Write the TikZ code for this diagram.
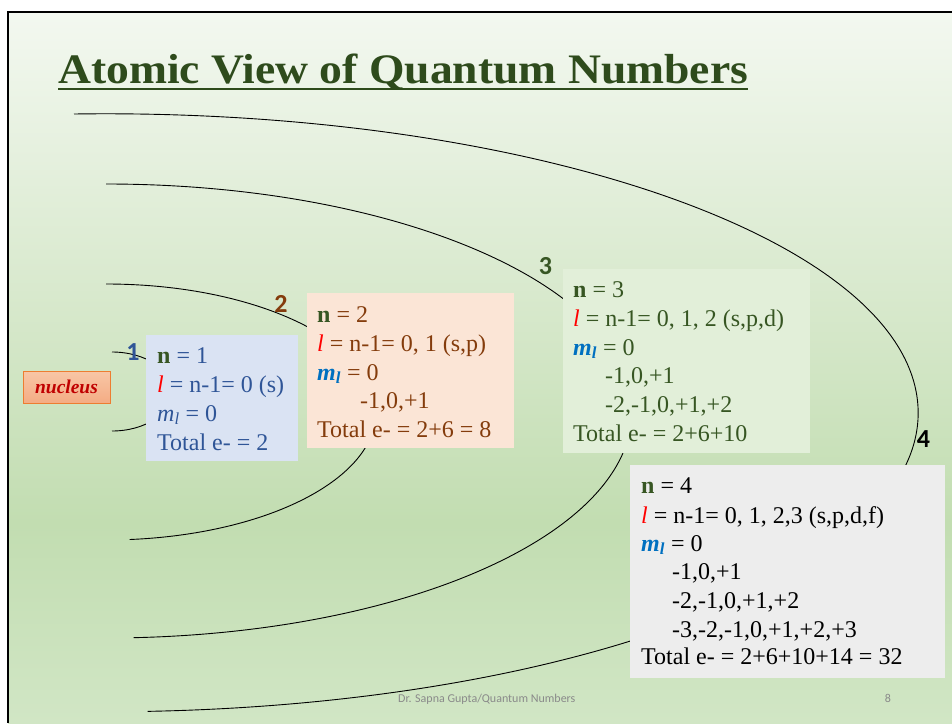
\documentclass[tikz,border=0pt]{standalone}
\usepackage{fontspec}
\setmainfont{Liberation Serif}
\newfontfamily\calib{Carlito}
\definecolor{bgA}{HTML}{F3F8F0}
\definecolor{bgM}{HTML}{DCEBD2}
\definecolor{bgB}{HTML}{C2DDB1}
\definecolor{bgC}{HTML}{D1E6C5}
\definecolor{titlegreen}{HTML}{2E4B1C}
\definecolor{ngreen}{HTML}{375623}
\definecolor{bluetxt}{HTML}{2F5597}
\definecolor{boxonefill}{HTML}{DAE3F3}
\definecolor{browntxt}{HTML}{843C0C}
\definecolor{boxtwofill}{HTML}{FBE5D6}
\definecolor{boxthreefill}{HTML}{E2EFD9}
\definecolor{boxfourfill}{HTML}{EDEDED}
\definecolor{mlblue}{HTML}{0070C0}
\definecolor{redl}{HTML}{FF0000}
\definecolor{nuctxt}{HTML}{C00000}
\definecolor{nucborder}{HTML}{ED7D31}
\definecolor{nuctop}{HTML}{F8C6A6}
\definecolor{nucbot}{HTML}{F4AC84}
\definecolor{footgray}{HTML}{8A8A8A}
\pgfdeclareverticalshading{slidebg}{100bp}{color(0bp)=(bgC); color(25bp)=(bgC); color(39bp)=(bgB); color(58bp)=(bgM); color(75bp)=(bgA); color(100bp)=(bgA)}
\newcommand{\qnN}{\textcolor{ngreen}{\textbf{n}}}
\newcommand{\qnL}{\textcolor{redl}{\textit{l}}}
\newcommand{\qnML}{\textcolor{mlblue}{\bfseries\itshape m\textsubscript{l}}}
\tikzset{
  ln/.style={anchor=base west, inner sep=0pt, font=\fontsize{24}{28}\selectfont},
  boxrect/.style={anchor=north west, inner sep=0pt, draw=none},
  orbit/.style={draw=black, line width=0.9pt},
  numlbl/.style={anchor=base, inner sep=0pt, font=\calib\bfseries\fontsize{26}{30}\selectfont},
}
\begin{document}
\begin{tikzpicture}[x=1pt, y=-1pt]
\useasboundingbox (0,0) rectangle (952,723);
\fill[white] (0,0) rectangle (952,723);
\shade[shading=slidebg] (8,12) rectangle (952,723);
\draw[line width=2pt] (952,12) -- (8,12) -- (8,723);

% title
\node[anchor=base west, inner sep=0pt, text=titlegreen, font=\bfseries\fontsize{42}{48}\selectfont] (title) at (58,83) {\scalebox{1.086}[1]{Atomic View of Quantum Numbers}};
\draw[titlegreen, line width=2.2pt] ([yshift=-5.8pt]title.base west) -- ([yshift=-5.8pt]title.base east);

% orbits
\draw[orbit] (112,352) arc[start angle=-90, end angle=90, x radius=60, y radius=39.5];
\draw[orbit] (106,284) arc[start angle=-90, end angle=85, x radius=270, y radius=128];
\draw[orbit] (106,184) arc[start angle=-90, end angle=87, x radius=526, y radius=227];
\draw[orbit] (74,114) arc[start angle=-92.2, end angle=87, x radius=813, y radius=299];

% nucleus
\node[draw=nucborder, line width=0.8pt, top color=nuctop, bottom color=nucbot, minimum width=87pt, minimum height=32pt, inner sep=0pt, text=nuctxt, font=\bfseries\itshape\fontsize{19.5}{22}\selectfont] (nucleus) at (66.5,387) {nucleus};

% boxes
\node[boxrect, fill=boxonefill, minimum width=152pt, minimum height=126pt] (box1) at (146,335) {};
\node[boxrect, fill=boxtwofill, minimum width=207pt, minimum height=155pt] (box2) at (307,293) {};
\node[boxrect, fill=boxthreefill, minimum width=247pt, minimum height=184pt] (box3) at (563,269) {};
\node[boxrect, fill=boxfourfill, minimum width=315pt, minimum height=213pt] (box4) at (630,465) {};

% shell labels
\node[numlbl, text=bluetxt] (lab1) at (133,360) {1};
\node[numlbl, text=browntxt] (lab2) at (281,312) {2};
\node[numlbl, text=ngreen] (lab3) at (545.5,274) {3};
\node[numlbl, text=black] (lab4) at (923.5,447) {4};

% box 1 text
\node[ln, text=bluetxt] (b1a) at (157,363) {\qnN{} = 1};
\node[ln, text=bluetxt] (b1b) at (157,392) {\qnL{} = n-1= 0 (s)};
\node[ln, text=bluetxt] (b1c) at (157,421) {\textit{m}\textsubscript{\textit{l}} = 0};
\node[ln, text=bluetxt] (b1d) at (157,450) {Total e- = 2};

% box 2 text
\node[ln, text=browntxt] (b2a) at (317,322) {\qnN{} = 2};
\node[ln, text=browntxt] (b2b) at (317,351) {\qnL{} = n-1= 0, 1 (s,p)};
\node[ln, text=browntxt] (b2c) at (317,380) {\qnML{} = 0};
\node[ln, text=browntxt] (b2d) at (360,408) {-1,0,+1};
\node[ln, text=browntxt] (b2e) at (317,437) {Total e- = 2+6 = 8};

% box 3 text
\node[ln, text=ngreen] (b3a) at (573,297) {\qnN{} = 3};
\node[ln, text=ngreen] (b3b) at (573,326) {\qnL{} = n-1= 0, 1, 2 (s,p,d)};
\node[ln, text=ngreen] (b3c) at (573,355) {\qnML{} = 0};
\node[ln, text=ngreen] (b3d) at (605,383) {-1,0,+1};
\node[ln, text=ngreen] (b3e) at (605,412) {-2,-1,0,+1,+2};
\node[ln, text=ngreen] (b3f) at (573,441) {Total e- = 2+6+10};

% box 4 text
\node[ln, text=black] (b4a) at (641,493) {\qnN{} = 4};
\node[ln, text=black] (b4b) at (641,523) {\qnL{} = n-1= 0, 1, 2,3 (s,p,d,f)};
\node[ln, text=black] (b4c) at (641,551) {\qnML{} = 0};
\node[ln, text=black] (b4d) at (672,579) {-1,0,+1};
\node[ln, text=black] (b4e) at (672,608) {-2,-1,0,+1,+2};
\node[ln, text=black] (b4f) at (672,637) {-3,-2,-1,0,+1,+2,+3};
\node[ln, text=black] (b4g) at (641,664) {Total e- = 2+6+10+14 = 32};

% footer
\node[anchor=base west, inner sep=0pt, text=footgray, font=\calib\fontsize{12}{14}\selectfont] (foot) at (398,702) {Dr. Sapna Gupta/Quantum Numbers};
\node[anchor=base, inner sep=0pt, text=footgray, font=\calib\fontsize{12}{14}\selectfont] (page) at (888,702) {8};
\end{tikzpicture}
\end{document}
